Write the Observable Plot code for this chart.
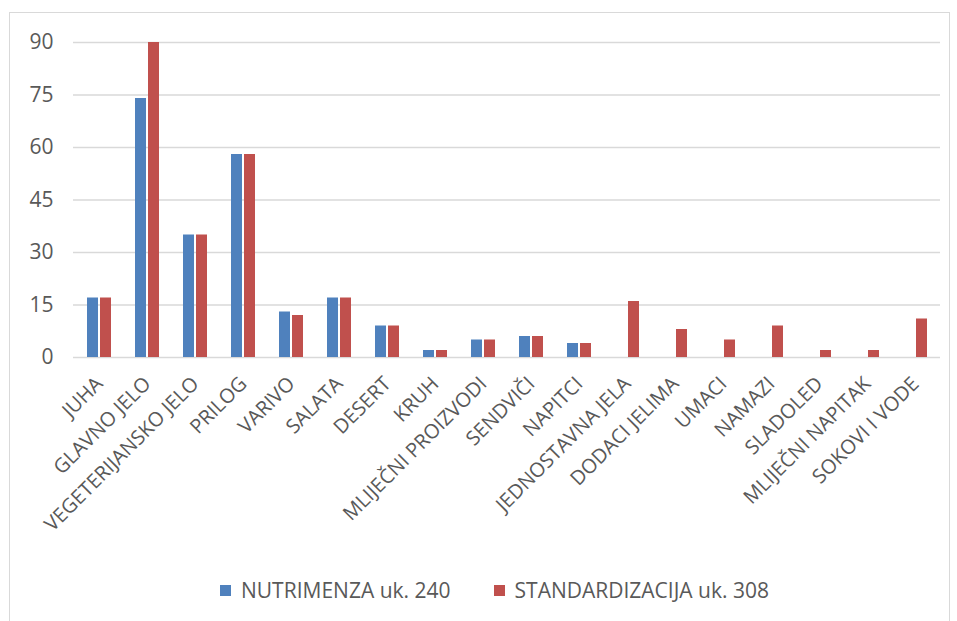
<!DOCTYPE html>
<html>
<head>
<meta charset="utf-8">
<script src="https://cdn.jsdelivr.net/npm/d3@7"></script>
<script src="https://cdn.jsdelivr.net/npm/@observablehq/plot@0.6"></script>
<style>
  html, body { margin: 0; padding: 0; background: #fff; }
  body { width: 957px; height: 621px; position: relative; overflow: hidden; font-family: "Open Sans", sans-serif; }
  #frame { position: absolute; left: 9px; top: 12px; width: 941px; height: 620px; border: 1px solid #d9d9d9; box-sizing: border-box; }
  #chart { position: absolute; left: 0; top: 0; }
  #legend { position: absolute; top: 576px; left: 220px; display: flex; font-size: 21px; color: #595959; }
  .item { display: flex; align-items: center; }
  .sw { width: 11px; height: 11px; display: inline-block; margin-right: 10px; }
</style>
</head>
<body>
<div id="frame"></div>
<div id="chart"></div>
<div id="legend"></div>
<script>
const categories = ["JUHA","GLAVNO JELO","VEGETERIJANSKO JELO","PRILOG","VARIVO","SALATA","DESERT","KRUH","MLIJEČNI PROIZVODI","SENDVIČI","NAPITCI","JEDNOSTAVNA JELA","DODACI JELIMA","UMACI","NAMAZI","SLADOLED","MLIJEČNI NAPITAK","SOKOVI I VODE"];
const seriesNames = ["NUTRIMENZA uk. 240", "STANDARDIZACIJA uk. 308"];
const nutrimenza = [17,74,35,58,13,17,9,2,5,6,4,0,0,0,0,0,0,0];
const standardizacija = [17,90,35,58,12,17,9,2,5,6,4,16,8,5,9,2,2,11];
const yTicks = [0,15,30,45,60,75,90];
const colors = ["#4F81BD", "#C0504D"];

const dataA = categories.map((c, i) => ({cat: c, value: nutrimenza[i]})).filter(d => d.value > 0);
const dataB = categories.map((c, i) => ({cat: c, value: standardizacija[i]})).filter(d => d.value > 0);

const chart = Plot.plot({
  width: 957,
  height: 560,
  marginLeft: 73,
  marginRight: 17,
  marginTop: 42,
  marginBottom: 203,
  style: {fontFamily: "'Open Sans', sans-serif", color: "#595959", background: "transparent"},
  x: {domain: categories, paddingInner: 0.5, paddingOuter: 0.25, label: null},
  y: {domain: [0, 90], label: null},
  marks: [
    Plot.gridY(yTicks, {stroke: "#d9d9d9", strokeOpacity: 1, strokeWidth: 1.3}),
    Plot.barY(dataA, {x: "cat", y: "value", fill: colors[0], insetRight: 13}),
    Plot.barY(dataB, {x: "cat", y: "value", fill: colors[1], insetLeft: 13}),
    Plot.axisY(yTicks, {tickSize: 0, tickPadding: 21, dx: 1, fontSize: 21, fill: "#595959", label: null}),
    Plot.axisX({tickSize: 0, tickRotate: -45, fontSize: 20, fill: "#595959", tickPadding: 8, dx: 0, dy: 15, label: null})
  ]
});
document.getElementById("chart").appendChild(chart);

const legend = document.getElementById("legend");
seriesNames.forEach((s, i) => {
  const it = document.createElement("div");
  it.className = "item";
  it.style.marginRight = i === 0 ? "43px" : "0";
  const sw = document.createElement("span");
  sw.className = "sw";
  sw.style.background = colors[i];
  it.appendChild(sw);
  it.appendChild(document.createTextNode(s));
  legend.appendChild(it);
});
</script>
</body>
</html>
